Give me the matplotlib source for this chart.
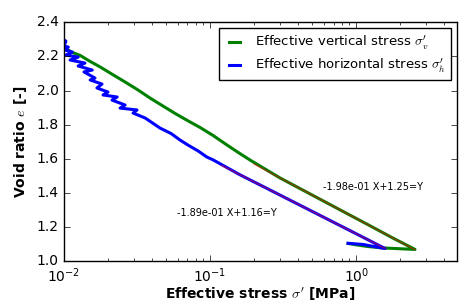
import numpy as np
import matplotlib
matplotlib.use('Agg')
import matplotlib.pyplot as plt

# effective vertical stress [MPa] and void ratio (loading + unloading)
sig_v = [0.0101, 0.0104, 0.0102, 0.0108, 0.0112, 0.0129, 0.0150, 0.0177, 0.0215, 0.0262,
         0.0320, 0.0388, 0.0470, 0.0575, 0.0700, 0.0855, 0.1050, 0.1267, 0.155, 0.188,
         0.30, 0.50, 0.80, 1.20, 1.80, 2.53, 2.0, 1.5, 1.2, 1.0, 0.88]
e_v = [2.262, 2.250, 2.244, 2.236, 2.226, 2.206, 2.172, 2.138, 2.094, 2.050,
       2.004, 1.956, 1.912, 1.866, 1.824, 1.783, 1.736, 1.688, 1.638, 1.592,
       1.488, 1.387, 1.294, 1.214, 1.133, 1.068, 1.072, 1.077, 1.085, 1.095, 1.103]

# effective horizontal stress [MPa] and void ratio
sig_h = [0.0100, 0.0103, 0.0100, 0.0107, 0.0101, 0.0114, 0.0103, 0.0125, 0.0110, 0.0139,
         0.0125, 0.0156, 0.0137, 0.0163, 0.0151, 0.0182, 0.0168, 0.0200, 0.0185, 0.0231,
         0.0213, 0.0262, 0.0242, 0.0316, 0.0297, 0.0359, 0.0454, 0.0540, 0.0622, 0.0700,
         0.0830, 0.0950, 0.105, 0.16, 0.25, 0.50, 1.00, 1.58, 1.117, 0.881]
e_h = [2.296, 2.290, 2.260, 2.255, 2.238, 2.226, 2.208, 2.196, 2.179, 2.161,
       2.144, 2.120, 2.109, 2.073, 2.062, 2.038, 2.015, 1.991, 1.974, 1.962,
       1.944, 1.915, 1.897, 1.886, 1.868, 1.839, 1.780, 1.748, 1.710, 1.682,
       1.645, 1.610, 1.593, 1.506, 1.422, 1.291, 1.160, 1.073, 1.097, 1.104]

# fitted lines e = a*ln(sigma) + b
fit_v = (-1.98e-01, 1.25)
fit_h = (-1.89e-01, 1.16)
fit_v_range = (0.2, 2.53)
fit_h_range = (0.12, 1.58)

plt.style.use('classic')
fig = plt.figure(figsize=(4.76, 3.06), dpi=100)
ax = fig.add_axes([0.1345, 0.147, 0.8255, 0.78])

ax.plot(sig_v, e_v, color='g', lw=2.2, label=r"Effective vertical stress $\sigma_v'$")
ax.plot(sig_h, e_h, color='b', lw=2.2, label=r"Effective horizontal stress $\sigma_h'$")

xv = np.logspace(np.log10(fit_v_range[0]), np.log10(fit_v_range[1]), 50)
ax.plot(xv, fit_v[0] * np.log(xv) + fit_v[1], color='r', lw=1, alpha=0.5)
xh = np.logspace(np.log10(fit_h_range[0]), np.log10(fit_h_range[1]), 50)
ax.plot(xh, fit_h[0] * np.log(xh) + fit_h[1], color='r', lw=1, alpha=0.5)

ax.text(0.594, 1.434, '%.2e X+%.2f=Y' % fit_v, fontsize=7, ha='left', va='center')
ax.text(0.0594, 1.281, '%.2e X+%.2f=Y' % fit_h, fontsize=7, ha='left', va='center')

ax.set_xscale('log')
ax.set_xlim(0.01, 4.9)
ax.set_ylim(1.0, 2.4)
ax.set_yticks(np.arange(1.0, 2.41, 0.2))
ax.tick_params(labelsize=10)
ax.set_xlabel(r"Effective stress $\sigma'$ [MPa]", fontsize=10, fontweight='bold', labelpad=0)
ax.set_ylabel(r"Void ratio $e$ [-]", fontsize=10, fontweight='bold')

leg = ax.legend(loc='upper right', fontsize=9.5, handlelength=1.5, handletextpad=0.8,
                borderaxespad=0.45, labelspacing=0.4)
leg.get_frame().set_linewidth(1)

fig.savefig('out.png', dpi=100)
